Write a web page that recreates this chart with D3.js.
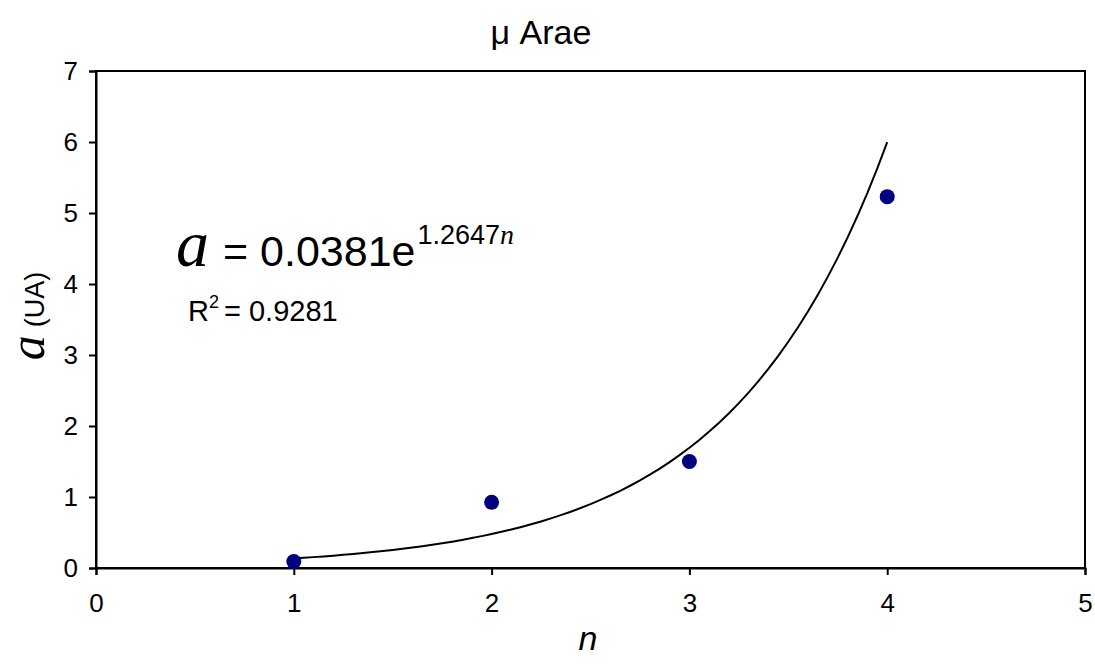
<!DOCTYPE html>
<html><head><meta charset="utf-8">
<script src="https://cdn.jsdelivr.net/npm/d3@7"></script>
<style>body{margin:0;background:#fff}svg{display:block}text{font-family:Arial,"Liberation Sans",sans-serif}</style>
</head><body><svg id="c" width="1095" height="666"></svg>
<script>
const nValues = [1, 2, 3, 4];
const aValues = [0.09, 0.925, 1.50, 5.23];
const xTicks = [0, 1, 2, 3, 4, 5];
const yTicks = [0, 1, 2, 3, 4, 5, 6, 7];
const trendCoef = 0.0381, trendExp = 1.2647;
const trendRange = [1, 4];

const svg = d3.select("#c");
const L = 96, R = 1085, T = 71, B = 568;
const x = d3.scaleLinear().domain([0, 5]).range([L, R]);
const y = d3.scaleLinear().domain([0, 7]).range([B, T]);
const serif = "'Times New Roman','Liberation Serif',serif";

svg.append("rect").attr("x", L).attr("y", T).attr("width", R - L).attr("height", B - T)
  .attr("fill", "none").attr("stroke", "#000").attr("stroke-width", 2);

const xa = svg.append("g").attr("transform", `translate(0,${B})`)
  .call(d3.axisBottom(x).tickValues(xTicks).tickSize(7).tickPadding(19).tickFormat(d3.format("d")));
const ya = svg.append("g").attr("transform", `translate(${L},0)`)
  .call(d3.axisLeft(y).tickValues(yTicks).tickSize(7).tickPadding(11).tickFormat(d3.format("d")));
[xa, ya].forEach(g => {
  g.attr("font-size", 26).attr("font-family", "Arial, 'Liberation Sans', sans-serif");
  g.select(".domain").attr("stroke-width", 2);
  g.selectAll(".tick line").attr("stroke-width", 2);
  g.selectAll(".tick text").attr("fill", "#000");
});

// trendline from the fit equation shown on the chart
const tn = d3.range(0, 61).map(i => trendRange[0] + (trendRange[1] - trendRange[0]) * i / 60);
svg.append("path").datum(tn)
  .attr("d", d3.line().x(d => x(d)).y(d => y(trendCoef * Math.exp(trendExp * d))))
  .attr("fill", "none").attr("stroke", "#000").attr("stroke-width", 2);

svg.selectAll("circle.pt").data(nValues).enter().append("circle")
  .attr("class", "pt").attr("cx", d => x(d)).attr("cy", (d, i) => y(aValues[i])).attr("r", 7.5)
  .attr("fill", "#000080");

svg.append("text").attr("x", 541).attr("y", 44).attr("text-anchor", "middle").attr("font-size", 34).text("μ Arae");

svg.append("text").attr("x", 588).attr("y", 650).attr("text-anchor", "middle")
  .attr("font-family", serif).attr("font-style", "italic").attr("font-size", 34).text("n");

const yl = svg.append("text").attr("transform", "translate(44,316) rotate(-90)").attr("text-anchor", "middle");
yl.append("tspan").attr("font-family", serif).attr("font-style", "italic").attr("font-size", 50).text("a");
yl.append("tspan").attr("font-size", 27).attr("dx", 8).text("(UA)");

const eq = svg.append("text").attr("x", 176).attr("y", 266);
eq.append("tspan").attr("font-family", serif).attr("font-style", "italic").attr("font-size", 66).text("a");
eq.append("tspan").attr("font-size", 43).attr("dx", 14).text("= 0.0381e");
eq.append("tspan").attr("font-size", 27).attr("dy", -22).attr("dx", 2).text("1.2647");
eq.append("tspan").attr("font-family", serif).attr("font-style", "italic").attr("font-size", 28).text("n");

const r2 = svg.append("text").attr("x", 188).attr("y", 321).attr("font-size", 29);
r2.append("tspan").text("R");
r2.append("tspan").attr("font-size", 18).attr("dy", -13).text("2");
r2.append("tspan").attr("dy", 13).attr("dx", 5).text("= 0.9281");
</script></body></html>
